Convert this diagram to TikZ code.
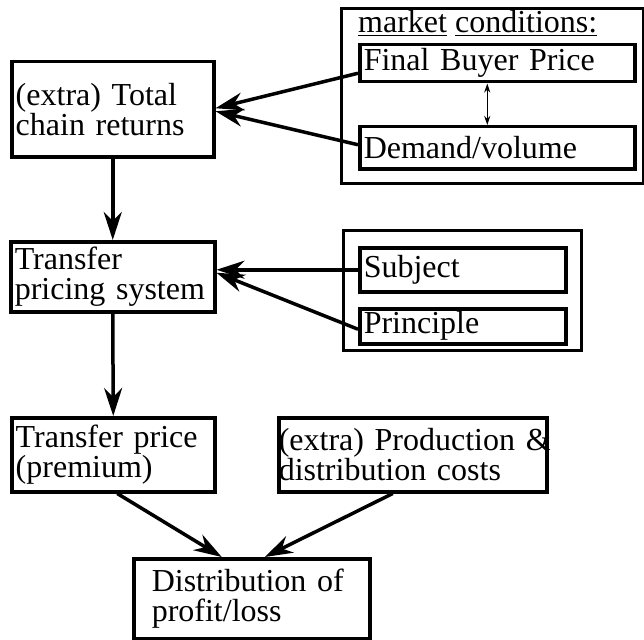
\documentclass[tikz,border=0pt]{standalone}
\usepackage{fontspec}
\setmainfont{Liberation Serif}
\usetikzlibrary{arrows.meta,positioning}

\begin{document}
\begin{tikzpicture}[
    x=1pt, y=-1pt,
    every node/.style={font=\fontsize{32}{30}\selectfont},
    box/.style={draw, line width=3.5pt, anchor=north west, align=left, inner xsep=4pt, inner ysep=0pt},
    frame/.style={draw, line width=3pt, anchor=north west, inner sep=0pt},
    arrow/.style={-{Stealth[length=28pt, width=18pt, inset=9pt]}, line width=3.5pt},
    thinarrow/.style={{Stealth[length=9pt, width=6pt]}-{Stealth[length=9pt, width=6pt]}, line width=1.2pt}
  ]
  \useasboundingbox (0,0) rectangle (644,639);

  % Row 1: chain returns and market conditions
  \node[box, text width=194pt, minimum height=95pt] (tot) at (10,60) {(extra) Total\\chain returns};
  \node[frame, minimum width=302pt, minimum height=175pt] (mktframe) at (340,7) {};
  \node[anchor=base west, inner sep=0pt] (mkt) at (358,33) {\underline{market} \underline{conditions:}};
  \node[box, text width=267pt, minimum height=37pt] (fbp) at (358,43) {Final Buyer Price};
  \node[box, text width=267pt, minimum height=42pt] (dem) at (358,125) {Demand/volume};

  \draw[thinarrow] ([xshift=-10pt]fbp.south) -- ([xshift=-10pt]dem.north);
  \draw[arrow] ([yshift=-10pt]fbp.west) -- ([yshift=1pt]tot.east);
  \draw[arrow] ([yshift=3pt]dem.west) -- ([yshift=-2pt]tot.east);

  % Row 2: transfer pricing system
  \node[box, text width=196pt, minimum height=70pt] (tps) at (9,240) {Transfer\\\mbox{pricing system}};
  \node[frame, minimum width=238pt, minimum height=120pt] (ctxframe) at (342,229) {};
  \node[box, text width=198pt, minimum height=44pt] (subj) at (358,246) {Subject};
  \node[box, text width=198pt, minimum height=35pt] (prin) at (358,307) {Principle};

  \draw[arrow] (tot.south) -- (tps.north);
  \draw[arrow] (subj.west) -- (subj.west -| tps.east);
  \draw[arrow] ([yshift=-3pt]prin.west) -- ([yshift=-3pt]subj.west -| tps.east);

  % Row 3: price, costs and distribution
  \node[box, text width=195pt, minimum height=74pt] (tp) at (10,416) {Transfer price\\(premium)};
  \node[box, inner xsep=0pt, text width=268pt, minimum height=74pt] (prod) at (277,416) {\mbox{(extra) Production \&}\\distribution costs};
  \node[box, inner xsep=18pt, text width=200pt, minimum height=80pt] (dist) at (132,557) {Distribution of\\profit/loss};

  \draw[arrow] (tps.south) -- (tp.north);
  \draw[arrow] ([xshift=4pt]tp.south) -- ([xshift=-30pt]dist.north);
  \draw[arrow] ([xshift=-20pt]prod.south) -- ([xshift=13pt]dist.north);

\end{tikzpicture}
\end{document}
